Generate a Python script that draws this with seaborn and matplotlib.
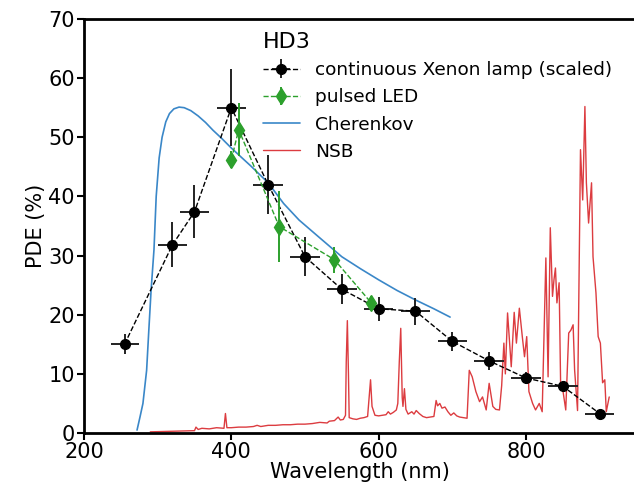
import numpy as np
import pandas as pd
import matplotlib
matplotlib.use("Agg")
import matplotlib.pyplot as plt
import seaborn as sns

# Xenon lamp (scaled)
xenon_wl = [255, 320, 350, 400, 450, 500, 550, 600, 650, 700, 750, 800, 850, 900]
xenon_pde = [15.0, 31.8, 37.4, 55.0, 42.0, 29.8, 24.3, 21.0, 20.6, 15.5, 12.2, 9.3, 7.9, 3.3]
xenon_yerr = [1.7, 3.8, 4.5, 6.5, 5.0, 3.3, 2.5, 2.0, 2.3, 1.6, 1.5, 1.0, 0.5, 0.2]
xenon_xerr = [19, 20, 20, 20, 20, 20, 20, 20, 20, 20, 20, 20, 20, 20]

# pulsed LED
led_wl = [400, 410, 465, 540, 590]
led_pde = [46.2, 51.3, 34.9, 29.3, 22.0]
led_yerr = [1.4, 4.5, 6.0, 2.2, 1.2]

# Cherenkov spectrum (arbitrary scale)
cher_wl = [272, 276, 280, 285, 288, 291, 295, 298, 302, 306, 311, 316, 322, 329, 336, 345, 355,
           365, 375, 387, 399, 412, 426, 450, 471, 492, 520, 550, 575, 600, 625, 650, 675, 697]
cher_val = [0.5, 2.7, 5.0, 10.6, 17.4, 24.0, 31.0, 40.0, 46.5, 50.0, 52.6, 54.0, 54.8, 55.1,
            55.0, 54.5, 53.6, 52.5, 51.2, 49.8, 48.3, 46.8, 45.2, 42.3, 38.8, 36.0, 33.0, 29.8,
            27.8, 25.9, 24.1, 22.5, 21.0, 19.6]

# Night-sky background (arbitrary scale)
nsb_wl = [290, 320, 350, 352, 355, 360, 370, 380, 390, 392, 394, 400, 410, 420, 430, 435,
          440, 450, 460, 470, 480, 490, 500, 510, 520, 530, 533, 540, 545, 548, 552, 555,
          556, 557.5, 559, 560, 565, 570, 575, 580, 585, 587, 589, 591, 595, 600, 605, 610,
          613, 616, 620, 624, 626, 628, 630, 632, 633, 635, 637, 640, 645, 648, 651, 655,
          660, 665, 670, 675, 678, 680, 683, 686, 690, 694, 698, 702, 706, 710, 715, 720,
          723, 727, 732, 737, 741, 746, 750, 755, 759, 764, 767, 770, 772, 775, 780, 784,
          787, 791, 795, 798, 801, 804, 809, 813, 818, 822, 827, 830, 833, 836, 838, 840,
          842, 845, 847, 850, 854, 858, 861, 864, 866, 870, 874, 877, 880, 882, 885, 889,
          891, 895, 898, 901, 904, 907, 909, 913]
nsb_val = [0.2, 0.3, 0.4, 1.0, 0.6, 0.8, 0.7, 0.9, 0.8, 3.3, 0.9, 0.9, 1.0, 1.0, 1.1, 1.3,
           1.1, 1.3, 1.3, 1.4, 1.4, 1.5, 1.5, 1.6, 1.8, 1.7, 2.0, 2.1, 2.7, 2.2, 2.3, 3.0,
           12.0, 19.0, 10.0, 2.6, 2.4, 2.3, 2.5, 2.6, 2.8, 6.0, 9.0, 4.5, 3.0, 2.9, 3.0, 3.1,
           3.6, 3.2, 3.5, 3.9, 5.0, 12.0, 17.7, 6.0, 4.5, 7.5, 4.0, 3.2, 3.6, 3.2, 3.8, 3.3,
           2.8, 2.6, 2.7, 2.8, 5.5, 4.6, 5.0, 4.2, 4.4, 3.6, 3.0, 3.4, 2.9, 2.7, 2.6, 2.5,
           10.6, 9.5, 7.0, 5.3, 6.1, 3.9, 8.4, 4.5, 4.0, 3.9, 8.0, 15.2, 10.0, 20.3, 11.2, 20.4,
           15.2, 21.1, 16.3, 12.9, 16.3, 7.0, 5.0, 3.9, 5.0, 3.6, 29.6, 9.5, 34.7, 23.1, 25.9, 27.9,
           22.0, 25.4, 8.5, 7.3, 3.9, 16.9, 17.4, 18.3, 10.7, 3.8, 47.9, 39.4, 55.2, 42.3, 35.5, 42.3,
           29.8, 23.7, 16.3, 15.2, 8.5, 9.0, 3.6, 6.1]

sns.set_style("ticks")
plt.rcParams['font.family'] = ['DejaVu Sans']
plt.rcParams['text.color'] = 'black'
plt.rcParams['axes.labelcolor'] = 'black'
plt.rcParams['xtick.color'] = 'black'
plt.rcParams['ytick.color'] = 'black'

fig = plt.figure(figsize=(6.34, 4.86), dpi=100)
ax = fig.add_axes([0.1325, 0.109, 0.8714, 0.852])

cher_df = pd.DataFrame({"wl": cher_wl, "val": cher_val})
nsb_df = pd.DataFrame({"wl": nsb_wl, "val": nsb_val})

h1 = ax.errorbar(xenon_wl, xenon_pde, yerr=xenon_yerr, xerr=xenon_xerr, fmt='o--',
                 color='black', ecolor='#222222', elinewidth=1.4, lw=1.0, ms=7,
                 label='continuous Xenon lamp (scaled)', zorder=4)
h2 = ax.errorbar(led_wl, led_pde, yerr=led_yerr, fmt='d--', color='#2ca02c',
                 ecolor='#2ca02c', elinewidth=1.4, lw=1.0, ms=8,
                 label='pulsed LED', zorder=5)
sns.lineplot(data=cher_df, x="wl", y="val", ax=ax, color='#3a87c8', lw=1.2,
             label='Cherenkov', sort=False, zorder=3)
sns.lineplot(data=nsb_df, x="wl", y="val", ax=ax, color='#dc3c40', lw=1.0,
             label='NSB', sort=False, zorder=2)

ax.set_xlim(200, 950)
ax.set_ylim(0, 70)
ax.set_xticks([200, 400, 600, 800])
ax.set_yticks(range(0, 71, 10))
ax.set_xlabel("Wavelength (nm)", fontsize=15, labelpad=0)
ax.set_ylabel("PDE (%)", fontsize=15, labelpad=2)
ax.tick_params(axis='both', labelsize=15, width=1.5, length=5, direction='out', pad=1.5)
for s in ['left', 'bottom', 'top', 'right']:
    ax.spines[s].set_linewidth(2.0)
    ax.spines[s].set_color('black')

leg = ax.legend(handles=[h1, h2] + ax.get_lines()[-2:],
                labels=['continuous Xenon lamp (scaled)', 'pulsed LED', 'Cherenkov', 'NSB'],
                title='HD3', loc='upper left', bbox_to_anchor=(0.30, 1.0),
                frameon=False, fontsize=13.3, title_fontsize=16,
                handlelength=2.0, handletextpad=0.85, labelspacing=0.5, borderpad=0.2)
leg._legend_box.align = 'left'

fig.savefig("out.png", dpi=100)
